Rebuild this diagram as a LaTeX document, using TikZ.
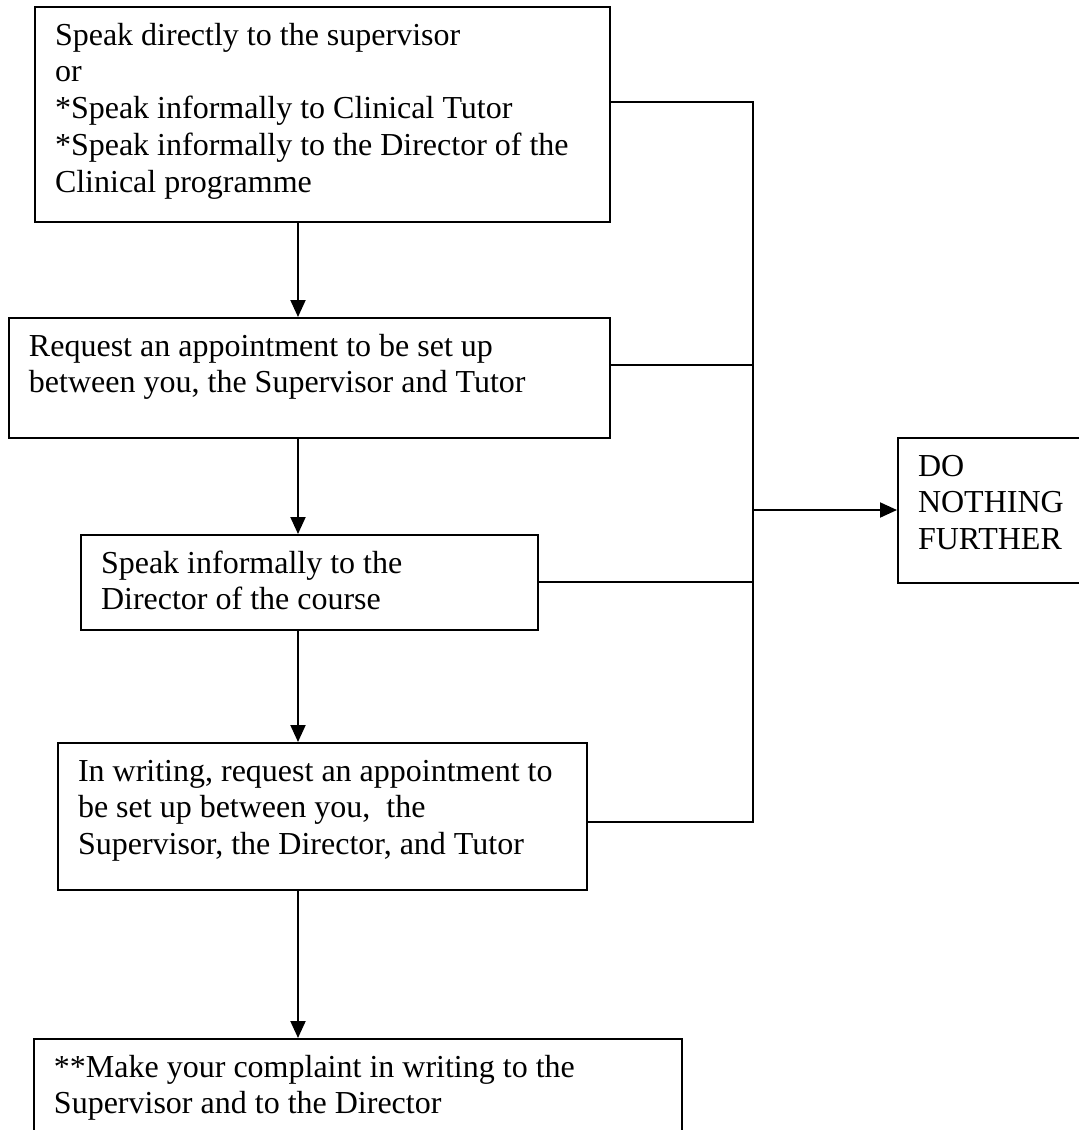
\documentclass[tikz,border=0pt]{standalone}
\usepackage{fontspec}
\setmainfont{Liberation Serif}
\usetikzlibrary{arrows.meta}
\newcommand{\boxtext}[3]{\parbox[c][#2][t]{#1}{\raggedright\leftskip=20pt\rule{0pt}{38.1pt}#3}}
\tikzset{
  flowbox/.style={draw, line width=2pt, rectangle, inner sep=0pt, anchor=north west,
    font=\fontsize{32pt}{36.8pt}\selectfont},
  link/.style={line width=2pt},
  arr/.style={line width=2pt, -{Triangle[length=17pt,width=15pt]}}
}
\begin{document}
\begin{tikzpicture}[x=1pt,y=-1pt]
\useasboundingbox (0,0) rectangle (1079,1130);
\clip (0,0) rectangle (1079,1130);
\fill[white] (0,0) rectangle (1079,1130);

\node[flowbox] (b1) at (34,6) {\boxtext{575pt}{215pt}{Speak directly to the supervisor\\{}or\\{}*Speak informally to Clinical Tutor\\{}*Speak informally to the Director of the\\{}Clinical programme}};
\node[flowbox] (b2) at (8,317) {\boxtext{601pt}{120pt}{Request an appointment to be set up\\{}between you, the Supervisor and Tutor}};
\node[flowbox] (b3) at (80,534) {\boxtext{457pt}{95pt}{Speak informally to the\\{}Director of the course}};
\node[flowbox] (b4) at (57,742) {\boxtext{529pt}{147pt}{In writing, request an appointment to\\{}be set up between you,~ the\\{}Supervisor, the Director, and Tutor}};
\node[flowbox] (b5) at (33,1038) {\boxtext{648pt}{200pt}{**Make your complaint in writing to the\\{}Supervisor and to the Director}};
\node[flowbox] (dn) at (897,437) {\boxtext{210pt}{145pt}{DO\\{}NOTHING\\{}FURTHER}};

\coordinate (ax) at (298,0);
\coordinate (j1) at (753,102);
\coordinate (j2) at (753,365);
\coordinate (j3) at (753,582);
\coordinate (j4) at (753,822);
\coordinate (j5) at (753,510);

\draw[arr] (b1.south -| ax) -- (b2.north -| ax);
\draw[arr] (b2.south -| ax) -- (b3.north -| ax);
\draw[arr] (b3.south -| ax) -- (b4.north -| ax);
\draw[arr] (b4.south -| ax) -- (b5.north -| ax);

\draw[link] (b1.east |- j1) -- (j1) -- (j4) -- (b4.east |- j4);
\draw[link] (b2.east |- j2) -- (j2);
\draw[link] (b3.east |- j3) -- (j3);
\draw[arr] (j5) -- (dn.west |- j5);
\end{tikzpicture}
\end{document}
